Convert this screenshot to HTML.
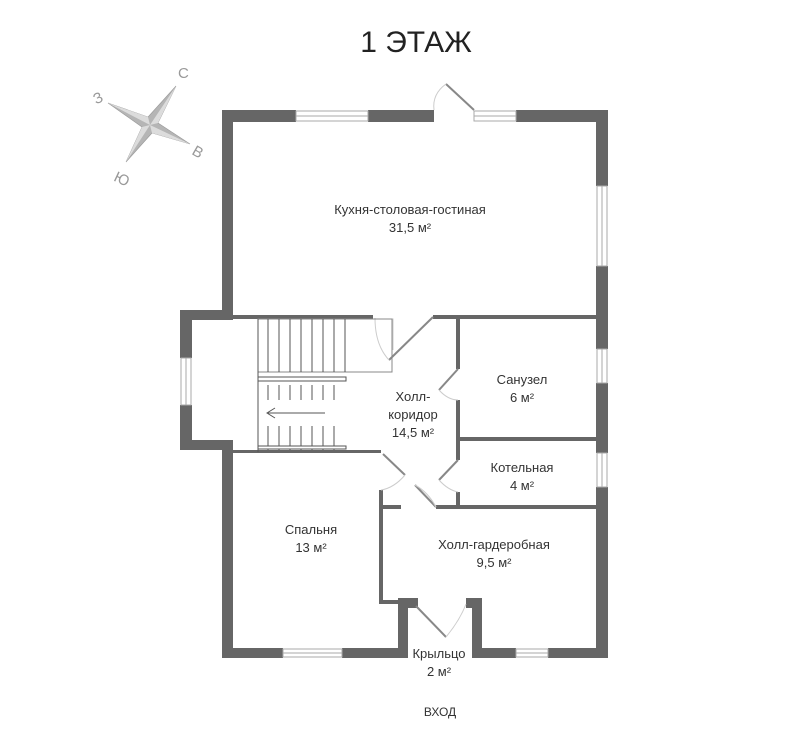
<!DOCTYPE html>
<html><head><meta charset="utf-8"><style>
html,body{margin:0;padding:0;background:#fff;}
svg{display:block;font-family:"Liberation Sans",sans-serif;}
</style></head><body>
<svg width="798" height="744" viewBox="0 0 798 744" xmlns="http://www.w3.org/2000/svg">
<rect width="798" height="744" fill="#fff"/>
<text x="416" y="52" font-size="30" text-anchor="middle" fill="#222">1 ЭТАЖ</text>
<!-- compass -->
<polygon points="176,86 158,123 190,144 152,133 126,162 142,127 108,103 148,117" fill="#b5b5b5" stroke="#999" stroke-width="0.6"/>
<g fill="#dcdcdc">
<polygon points="176,86 150,125 158,123"/>
<polygon points="190,144 150,125 152,133"/>
<polygon points="126,162 150,125 142,127"/>
<polygon points="108,103 150,125 148,117"/>
</g>
<g font-size="15" fill="#999">
<text x="93" y="103" transform="rotate(-25 98 97)">З</text>
<text x="178" y="78">С</text>
<text x="193" y="158" transform="rotate(30 200 152)">В</text>
<text x="115" y="183" transform="rotate(25 120 177)">Ю</text>
</g>
<g fill="#666">
<rect x="222" y="110" width="74" height="12"/>
<rect x="368" y="110" width="66" height="12"/>
<rect x="516" y="110" width="92" height="12"/>
<rect x="596" y="110" width="12" height="76"/>
<rect x="596" y="266" width="12" height="83"/>
<rect x="596" y="383" width="12" height="70"/>
<rect x="596" y="487" width="12" height="171"/>
<rect x="222" y="110" width="11" height="210"/>
<rect x="180" y="310" width="53" height="10"/>
<rect x="180" y="310" width="12" height="48"/>
<rect x="180" y="405" width="12" height="45"/>
<rect x="180" y="440" width="53" height="10"/>
<rect x="222" y="440" width="11" height="218"/>
<rect x="222" y="648" width="61" height="10"/>
<rect x="342" y="648" width="66" height="10"/>
<rect x="398" y="598" width="10" height="60"/>
<rect x="402" y="598" width="16" height="10"/>
<rect x="466" y="598" width="16" height="10"/>
<rect x="472" y="598" width="10" height="60"/>
<rect x="472" y="648" width="44" height="10"/>
<rect x="548" y="648" width="60" height="10"/>
<rect x="233" y="315" width="140" height="4"/>
<rect x="433" y="315" width="163" height="4"/>
<rect x="456" y="319" width="4" height="50"/>
<rect x="456" y="400" width="4" height="60"/>
<rect x="456" y="492" width="4" height="14"/>
<rect x="460" y="437" width="136" height="4"/>
<rect x="233" y="450" width="148" height="3"/>
<rect x="381" y="505" width="20" height="4"/>
<rect x="436" y="505" width="160" height="4"/>
<rect x="379" y="490" width="4" height="114"/>
<rect x="379" y="600" width="22" height="4"/>
</g>
<g fill="#fff" stroke="#aaa" stroke-width="1">
<rect x="296" y="111" width="72" height="10"/><line x1="296" y1="116" x2="368" y2="116"/>
<rect x="474" y="111" width="42" height="10"/><line x1="474" y1="116" x2="516" y2="116"/>
<rect x="597" y="186" width="10" height="80"/><line x1="602" y1="186" x2="602" y2="266"/>
<rect x="597" y="349" width="10" height="34"/><line x1="602" y1="349" x2="602" y2="383"/>
<rect x="597" y="453" width="10" height="34"/><line x1="602" y1="453" x2="602" y2="487"/>
<rect x="181" y="358" width="10" height="47"/><line x1="186" y1="358" x2="186" y2="405"/>
<rect x="283" y="649" width="59" height="8"/><line x1="283" y1="653" x2="342" y2="653"/>
<rect x="516" y="649" width="32" height="8"/><line x1="516" y1="653" x2="548" y2="653"/>
</g>
<g stroke="#888" stroke-width="2" fill="none">
<line x1="474" y1="110" x2="446" y2="84"/>
<line x1="433" y1="317" x2="389" y2="360"/>
<line x1="458" y1="369" x2="439" y2="390"/>
<line x1="458" y1="460" x2="439" y2="480"/>
<line x1="383" y1="454" x2="405" y2="475"/>
<line x1="436" y1="507" x2="415" y2="485"/>
<line x1="416" y1="606" x2="446" y2="637"/>
</g>
<g stroke="#ccc" stroke-width="1" fill="none">
<path d="M446,84 Q432,94 434,110"/>
<path d="M389,360 Q375,345 375,318"/>
<path d="M439,390 Q448,400 458,400"/>
<path d="M439,480 Q448,490 458,492"/>
<path d="M405,475 Q394,488 381,490"/>
<path d="M415,485 Q428,492 436,507"/>
<path d="M446,637 Q460,620 466,604"/>
<path d="M373,319 L393,319 L393,350"/>
</g>
<g stroke="#555" stroke-width="1" fill="none">
<rect x="258" y="319" width="134" height="53" stroke="#888"/>
<line x1="258" y1="319" x2="258" y2="452"/>
<line x1="268" y1="319" x2="268" y2="372"/><line x1="279" y1="319" x2="279" y2="372"/>
<line x1="290" y1="319" x2="290" y2="372"/><line x1="301" y1="319" x2="301" y2="372"/>
<line x1="312" y1="319" x2="312" y2="372"/><line x1="323" y1="319" x2="323" y2="372"/>
<line x1="334" y1="319" x2="334" y2="372"/><line x1="345" y1="319" x2="345" y2="372"/>
<rect x="258" y="377" width="88" height="4" fill="#fff"/>
<line x1="268" y1="385" x2="268" y2="450"/><line x1="279" y1="385" x2="279" y2="450"/>
<line x1="290" y1="385" x2="290" y2="450"/><line x1="301" y1="385" x2="301" y2="450"/>
<line x1="312" y1="385" x2="312" y2="450"/><line x1="323" y1="385" x2="323" y2="450"/>
<line x1="334" y1="385" x2="334" y2="450"/>
<rect x="258" y="446" width="88" height="3" fill="#fff"/>
</g>
<rect x="265" y="400" width="75" height="26" fill="#fff"/>
<g stroke="#555" stroke-width="1" fill="none"><line x1="268" y1="413" x2="325" y2="413"/><polyline points="275,408 267,413 275,418"/></g>
<g font-size="13" fill="#333" text-anchor="middle">
<text x="410" y="214">Кухня-столовая-гостиная</text><text x="410" y="232">31,5 м²</text>
<text x="522" y="384">Санузел</text><text x="522" y="402">6 м²</text>
<text x="522" y="472">Котельная</text><text x="522" y="490">4 м²</text>
<text x="413" y="401">Холл-</text><text x="413" y="419">коридор</text><text x="413" y="437">14,5 м²</text>
<text x="311" y="534">Спальня</text><text x="311" y="552">13 м²</text>
<text x="494" y="549">Холл-гардеробная</text><text x="494" y="567">9,5 м²</text>
<text x="439" y="658">Крыльцо</text><text x="439" y="676">2 м²</text>
<text x="440" y="716" font-size="12">ВХОД</text>
</g>
</svg>
</body></html>
